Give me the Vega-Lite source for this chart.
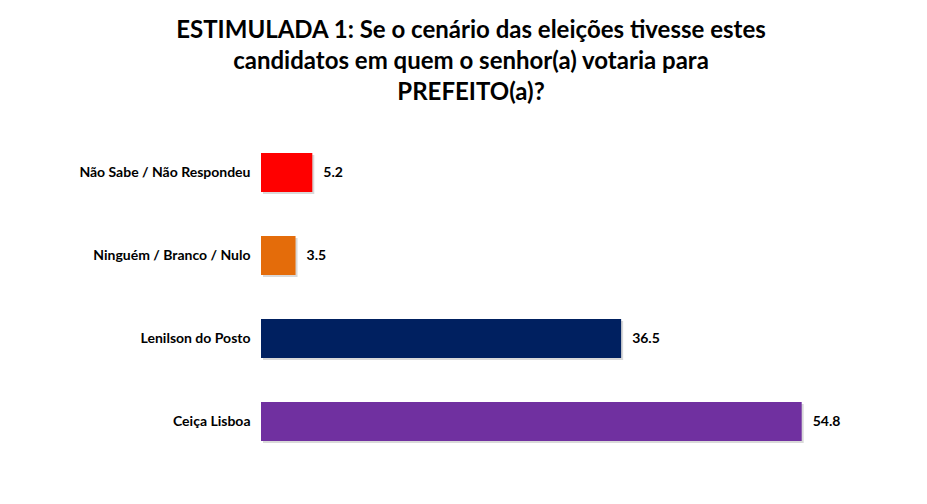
{
  "$schema": "https://vega.github.io/schema/vega-lite/v6.json",
  "autosize": {"type": "none"},
  "padding": {"left": 261, "top": 131, "right": 0, "bottom": 0},
  "width": 592,
  "height": 332,
  "background": "white",
  "title": {
    "text": [
      "ESTIMULADA 1: Se o cenário das eleições tivesse estes",
      "candidatos em quem o senhor(a) votaria para",
      "PREFEITO(a)?"
    ],
    "font": "Lato",
    "fontSize": 24,
    "fontWeight": "bold",
    "color": "black",
    "lineHeight": 31,
    "anchor": "middle",
    "dx": -86,
    "offset": 26
  },
  "data": {
    "values": [
      {"categoria": "Não Sabe / Não Respondeu", "valor": 5.2},
      {"categoria": "Ninguém / Branco / Nulo", "valor": 3.5},
      {"categoria": "Lenilson do Posto", "valor": 36.5},
      {"categoria": "Ceiça Lisboa", "valor": 54.8}
    ]
  },
  "encoding": {
    "y": {
      "field": "categoria",
      "type": "nominal",
      "sort": null,
      "title": null,
      "scale": {"paddingInner": 0.53, "paddingOuter": 0.265},
      "axis": {
        "domain": false,
        "ticks": false,
        "labelFont": "Lato",
        "labelFontSize": 14,
        "labelFontWeight": "bold",
        "labelColor": "black",
        "labelPadding": 11
      }
    },
    "x": {
      "field": "valor",
      "type": "quantitative",
      "scale": {"domain": [0, 60]},
      "axis": null
    }
  },
  "layer": [
    {
      "mark": {"type": "bar", "color": "#000000", "opacity": 0.15, "xOffset": 2, "yOffset": 2}
    },
    {
      "mark": {"type": "bar"},
      "encoding": {
        "color": {
          "field": "categoria",
          "type": "nominal",
          "legend": null,
          "scale": {
            "domain": ["Não Sabe / Não Respondeu", "Ninguém / Branco / Nulo", "Lenilson do Posto", "Ceiça Lisboa"],
            "range": ["#FF0000", "#E46C0A", "#002060", "#7030A0"]
          }
        }
      }
    },
    {
      "mark": {"type": "text", "align": "left", "dx": 11, "font": "Lato", "fontSize": 14, "fontWeight": "bold", "color": "black"},
      "encoding": {
        "text": {"field": "valor", "type": "quantitative", "format": ".1f"}
      }
    }
  ],
  "config": {"view": {"stroke": null}}
}
